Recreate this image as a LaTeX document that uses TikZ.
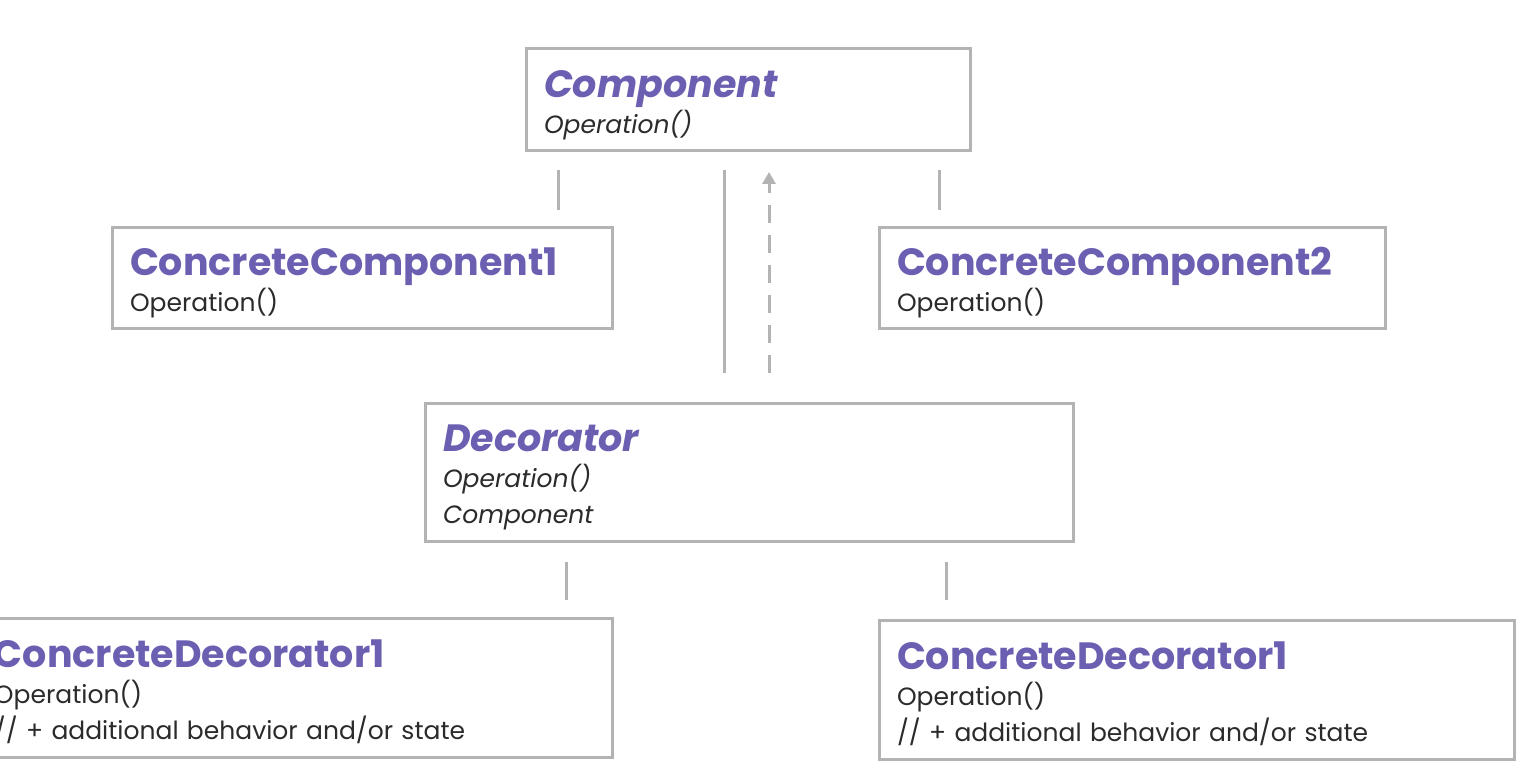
\documentclass[tikz,border=0pt]{standalone}
\usepackage{fontspec}
\setmainfont{Poppins}
\usepackage{tikz}
\usetikzlibrary{positioning, arrows.meta}

\definecolor{boxgray}{HTML}{B3B3B3}
\definecolor{titlepurple}{HTML}{6B5FB2}
\definecolor{textdark}{HTML}{2B2B2B}

\newcommand{\clsname}[1]{{\fontsize{19}{19}\selectfont\bfseries\color{titlepurple}\rule{0pt}{18.5pt}#1}}
\newcommand{\absname}[1]{{\fontsize{19}{19}\selectfont\bfseries\itshape\color{titlepurple}\rule{0pt}{18.5pt}#1}}

\begin{document}
\begin{tikzpicture}[
    x=0.5pt, y=-0.5pt,
    classbox/.style={rectangle, draw=boxgray, line width=1.5pt, anchor=north west, outer sep=0pt,
        inner xsep=9pt, inner ysep=0pt, align=left, text=textdark, font=\fontsize{12.5}{18}\selectfont},
    link/.style={draw=boxgray, line width=1.5pt},
]
\fill[white] (0,0) rectangle (1526,780);
\useasboundingbox (0,0) rectangle (1526,780);

% classes
\node[classbox, text width=204pt, minimum height=51pt](comp) at (526,49)
    {\absname{Component}\\ \textit{Operation()}};
\node[classbox, text width=232pt, minimum height=50.5pt](cc1) at (112,228)
    {\clsname{ConcreteComponent1}\\ Operation()};
\node[classbox, text width=235pt, minimum height=50.5pt](cc2) at (879,228)
    {\clsname{ConcreteComponent2}\\ Operation()};
\node[classbox, text width=306pt, minimum height=68.5pt](deco) at (425,404)
    {\absname{Decorator}\\ \textit{Operation()}\\ \textit{Component}};
\node[classbox, text width=300pt, minimum height=69.5pt](cd1) at (-24,618)
    {\clsname{ConcreteDecorator1}\\ Operation()\\ // + additional behavior and/or state};
\node[classbox, text width=299.5pt, minimum height=69.5pt](cd2) at (879,620)
    {\clsname{ConcreteDecorator1}\\ Operation()\\ // + additional behavior and/or state};

% link ends
\coordinate (cc1-up) at (558,170);
\coordinate (cc1-down) at (558,210);
\coordinate (cc2-up) at (939,170);
\coordinate (cc2-down) at (939,210);
\coordinate (deco-up) at (724,170);
\coordinate (deco-down) at (724,373);
\coordinate (ref-tip) at (769,172);
\coordinate (ref-foot) at (769,373);
\coordinate (cd1-up) at (566,562);
\coordinate (cd1-down) at (566,600);
\coordinate (cd2-up) at (946,562);
\coordinate (cd2-down) at (946,600);

% links
\draw[link] (cc1-up) -- (cc1-down);
\draw[link] (cc2-up) -- (cc2-down);
\draw[link] (deco-up) -- (deco-down);
\draw[link, dash pattern=on 9pt off 6pt, -{Triangle[width=6.5pt, length=6pt]}] (ref-foot) -- (ref-tip);
\draw[link] (cd1-up) -- (cd1-down);
\draw[link] (cd2-up) -- (cd2-down);
\end{tikzpicture}
\end{document}
